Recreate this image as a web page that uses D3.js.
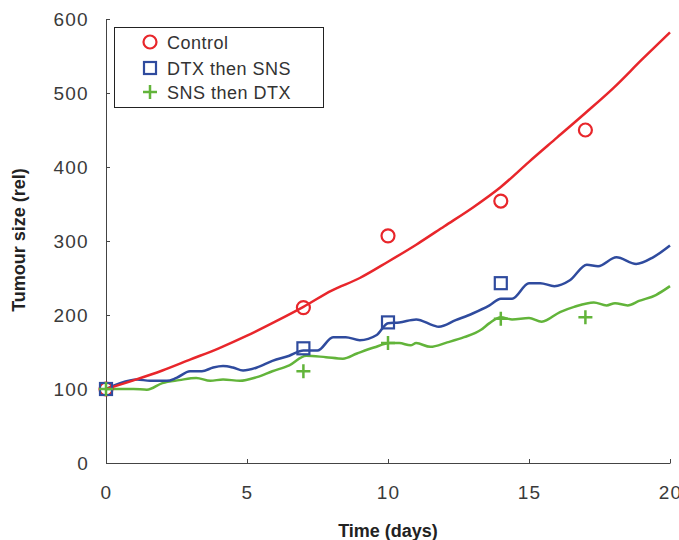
<!DOCTYPE html>
<html>
<head>
<meta charset="utf-8">
<style>
  body { margin: 0; background: #fff; }
  .axis path, .axis line { stroke: #444; }
  .axis text { font-family: "Liberation Sans", Arial, sans-serif; font-size: 19px; letter-spacing: 1.3px; fill: #3a3a3a; }
  .title { font-family: "Liberation Sans Narrow", "Liberation Sans", Arial, sans-serif; font-weight: bold; font-size: 18px; fill: #222; }
  .legend text { font-family: "Liberation Sans", Arial, sans-serif; font-size: 18px; letter-spacing: 0.5px; fill: #333; }
</style>
</head>
<body>
<svg id="chart" width="679" height="540"></svg>
<script src="https://d3js.org/d3.v7.min.js"></script>
<script>
// measured data points (day, size)
var controlDays = [0, 7, 10, 14, 17];
var controlVals = [100, 210, 307, 354, 450];
var dtxDays = [0, 7, 10, 14];
var dtxVals = [100, 155, 190, 243];
var snsDays = [0, 7, 10, 14, 17];
var snsVals = [100, 124, 162, 195, 197];

// fitted curves: [day, size]
var controlCurve = [[0,100],[1,112],[2,125],[3,140],[4,155],[5,172],[6,191],[7,211],[8,233],[9,250],[10,272],
  [11,295],[12,320],[13,345],[14,373],[15,407],[16,440],[17,473],[18,507],[19,545],[20,582]];
var dtxCurve = [[0,100],[0.5,108],[1.1,113],[1.56,111],[2.16,111],[2.5,115],[2.98,124],[3.4,124],[3.8,129],
  [4.15,131],[4.5,129],[4.86,125],[5.35,129],[5.9,138],[6.5,145],[7,152],[7.5,152],[8.05,170],[8.5,170],
  [9,166],[9.6,173],[10,189],[10.4,190],[11,194],[11.6,186],[11.8,184],[12.4,193],[13,202],[13.6,213],
  [14,222],[14.4,222],[15,243],[15.4,243],[15.9,239],[16.45,247],[17.05,268],[17.45,266],[18.1,278],
  [18.8,269],[19.4,278],[20,294]];
var snsCurve = [[0,100],[0.5,100],[0.97,100],[1.45,99],[2,108],[2.6,112],[3.2,115],[3.7,111],[4.15,113],
  [4.75,111],[5.35,116],[5.9,124],[6.5,132],[7.1,145],[7.8,143],[8.4,141],[8.9,148],[9.5,156],[10.07,162],
  [10.4,162],[10.8,159],[11,162],[11.5,157],[12.1,163],[12.7,170],[13.3,180],[13.6,189],[14,197],[14.4,194],
  [15,196],[15.45,191],[16.1,204],[16.6,211],[17.3,217],[17.75,213],[18.05,216],[18.5,213],[18.9,219],
  [19.5,227],[20,239]];

var xTicks = [0, 5, 10, 15, 20];
var yTicks = [0, 100, 200, 300, 400, 500, 600];
var seriesNames = ["Control", "DTX then SNS", "SNS then DTX"];

var red = "#e8262b", blue = "#2f4b9e", green = "#62b43a";

var svg = d3.select("#chart");
var x = d3.scaleLinear().domain([0, 20]).range([106, 670]);
var y = d3.scaleLinear().domain([0, 600]).range([463, 19]);

svg.append("g").attr("class", "axis")
  .attr("transform", "translate(0,463)")
  .call(d3.axisBottom(x).tickValues(xTicks).tickSizeInner(-4).tickSizeOuter(0).tickPadding(23));

svg.append("g").attr("class", "axis")
  .attr("transform", "translate(106,0)")
  .call(d3.axisLeft(y).tickValues(yTicks).tickSizeInner(-4).tickSizeOuter(0).tickPadding(17));

// axis titles
svg.append("text").attr("class", "title")
  .attr("text-anchor", "middle")
  .attr("x", 388).attr("y", 537)
  .text("Time (days)");
svg.append("text").attr("class", "title")
  .attr("text-anchor", "middle")
  .attr("transform", "translate(25,240) rotate(-90)")
  .text("Tumour size (rel)");

var line = d3.line()
  .x(d => x(d[0]))
  .y(d => y(d[1]))
  .curve(d3.curveMonotoneX);

[[snsCurve, green], [dtxCurve, blue], [controlCurve, red]].forEach(function (s) {
  svg.append("path")
    .datum(s[0])
    .attr("d", line)
    .attr("fill", "none")
    .attr("stroke", s[1])
    .attr("stroke-width", 2.5)
    .attr("stroke-linejoin", "round");
});

// markers
var ctrlPts = controlDays.map((d, i) => [d, controlVals[i]]);
var dtxPts = dtxDays.map((d, i) => [d, dtxVals[i]]);
var snsPts = snsDays.map((d, i) => [d, snsVals[i]]);

svg.selectAll(".circ").data(ctrlPts).enter().append("circle")
  .attr("cx", d => x(d[0])).attr("cy", d => y(d[1])).attr("r", 6.5)
  .attr("fill", "none").attr("stroke", red).attr("stroke-width", 2.2);

svg.selectAll(".sq").data(dtxPts).enter().append("rect")
  .attr("x", d => x(d[0]) - 6).attr("y", d => y(d[1]) - 6)
  .attr("width", 12).attr("height", 12)
  .attr("fill", "none").attr("stroke", blue).attr("stroke-width", 2.2);

svg.selectAll(".pl").data(snsPts).enter().append("path")
  .attr("transform", d => "translate(" + x(d[0]) + "," + y(d[1]) + ")")
  .attr("d", "M-7,0H7M0,-7V7")
  .attr("fill", "none").attr("stroke", green).attr("stroke-width", 2.5);

// legend
var lg = svg.append("g").attr("class", "legend");
lg.append("rect").attr("x", 114.5).attr("y", 27.5).attr("width", 209).attr("height", 80)
  .attr("fill", "#fff").attr("stroke", "#222").attr("stroke-width", 1);

var ly = [42, 68, 92];
lg.append("circle").attr("cx", 150).attr("cy", ly[0]).attr("r", 6.5)
  .attr("fill", "none").attr("stroke", red).attr("stroke-width", 2.2);
lg.append("rect").attr("x", 144).attr("y", ly[1] - 6).attr("width", 12).attr("height", 12)
  .attr("fill", "none").attr("stroke", blue).attr("stroke-width", 2.2);
lg.append("path").attr("transform", "translate(150," + ly[2] + ")")
  .attr("d", "M-7,0H7M0,-7V7")
  .attr("fill", "none").attr("stroke", green).attr("stroke-width", 2.5);

seriesNames.forEach(function (n, i) {
  lg.append("text").attr("x", 167).attr("y", ly[i] + 6.5).text(n);
});
</script>
</body>
</html>
